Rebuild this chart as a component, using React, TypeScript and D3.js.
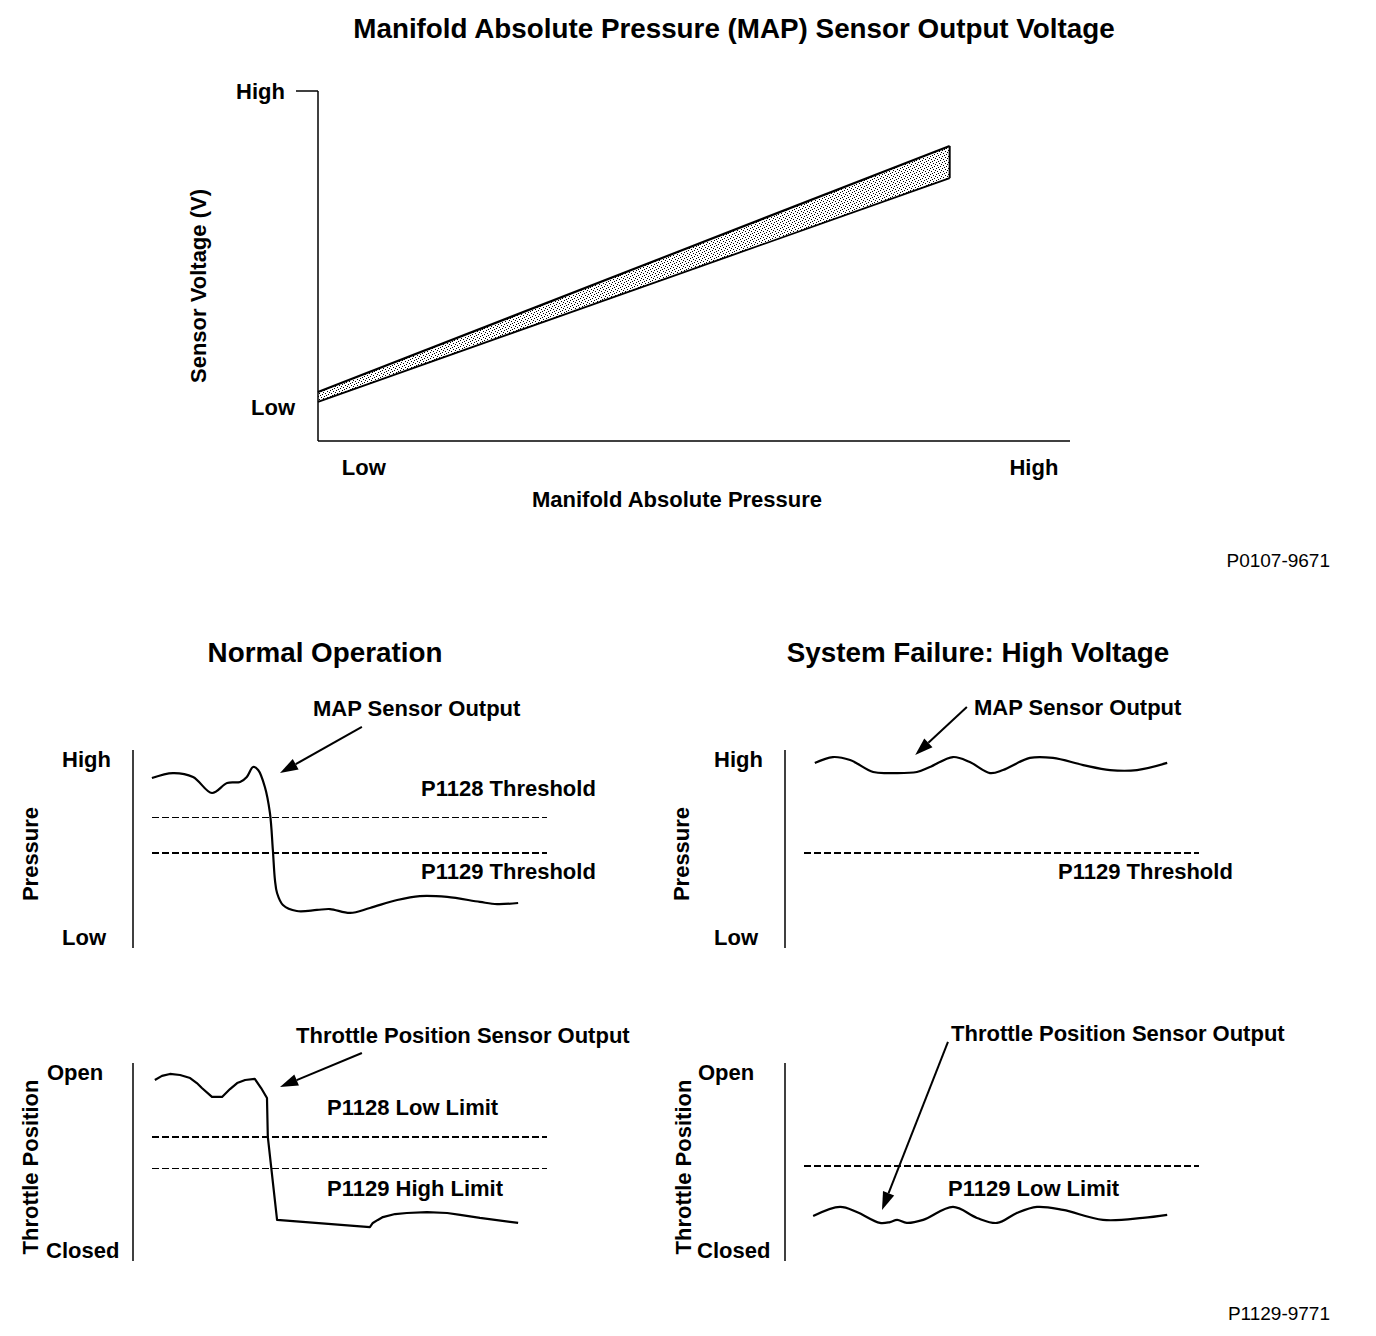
import React from "react";
import * as d3 from "d3";

// ---------- Top chart data ----------
const mapPressure = [0, 84];
const mapVoltageUpper = [14.0, 84.3];
const mapVoltageLower = [11.2, 75.1];
const topYTicks = [
  { label: "Low", value: 9.7 },
  { label: "High", value: 100 },
];
const topXTicks = [
  { label: "Low", value: 6.1 },
  { label: "High", value: 95.2 },
];

// ---------- Normal operation: MAP sensor output (time, pressure) ----------
const normalMapT = [4.5, 9.5, 14.3, 18.8, 22.4, 25.5, 27.1, 28.6, 29.8, 31.4, 32.6, 33.3, 33.8, 34.3, 35.7, 39.0, 43.8, 46.9, 51.7, 56.4, 62.9, 68.3, 74.8, 82.6, 86.7, 91.7];
const normalMapV = [89.3, 92.1, 89.9, 80.9, 86.5, 87.1, 89.9, 95.5, 93.8, 84.3, 69.7, 48.9, 32.0, 24.7, 18.0, 14.6, 15.2, 15.7, 13.5, 16.3, 20.8, 23.0, 22.5, 19.7, 18.5, 19.1];

// ---------- Normal operation: TPS output ----------
const normalTpsT = [5.2, 6.9, 8.8, 11.2, 13.6, 15.2, 16.4, 18.8, 21.2, 23.1, 24.8, 26.7, 29.0, 30.5, 31.9, 32.1, 34.3, 56.4, 57.1, 58.3, 59.5, 62.4, 65.2, 70.0, 74.8, 77.9, 82.6, 91.7];
const normalTpsV = [95.5, 97.8, 98.9, 98.3, 96.6, 93.8, 91.0, 86.0, 86.0, 90.4, 93.8, 95.5, 96.1, 91.0, 85.4, 63.5, 16.9, 12.9, 15.2, 16.9, 18.5, 20.2, 20.8, 21.3, 20.8, 19.7, 18.0, 15.2];

// ---------- Failure: MAP sensor output ----------
const failMapT = [7.1, 11.4, 15.5, 21.0, 25.0, 31.4, 34.5, 40.0, 44.0, 48.8, 51.9, 58.3, 63.8, 71.0, 77.4, 83.8, 91.0];
const failMapV = [97.8, 101.1, 99.4, 92.7, 92.1, 92.7, 95.5, 101.1, 98.3, 92.1, 93.8, 100.6, 100.6, 96.6, 93.8, 93.8, 97.8];

// ---------- Failure: TPS output ----------
const failTpsT = [6.7, 13.1, 17.1, 22.6, 25.0, 26.7, 29.0, 32.9, 40.0, 45.7, 50.5, 55.2, 60.0, 66.2, 75.7, 85.2, 91.0];
const failTpsV = [19.1, 24.2, 21.3, 15.2, 15.7, 16.9, 15.2, 16.9, 24.2, 18.0, 15.2, 20.8, 24.2, 22.5, 16.9, 18.0, 19.7];

// ---------- Thresholds ----------
const normalMapThresholds = [
  { label: "P1128 Threshold", value: 67.4, thick: false },
  { label: "P1129 Threshold", value: 47.2, thick: true },
];
const normalTpsThresholds = [
  { label: "P1128 Low Limit", value: 63.5, thick: true },
  { label: "P1129 High Limit", value: 46.1, thick: false },
];
const failMapThresholds = [{ label: "P1129 Threshold", value: 47.2, thick: true }];
const failTpsThresholds = [{ label: "P1129 Low Limit", value: 47.2, thick: true }];
const thresholdSpan = [4.6, 98.6];

// ---------- Arrows (from, to) in panel data units ----------
const normalMapArrow = [[54.5, 118], [35.0, 92.1]];
const normalTpsArrow = [[54.5, 110.7], [35.0, 91.6]];
const failMapArrow = [[43.3, 129.2], [31.0, 102.2]];
const failTpsArrow = [[38.8, 116.9], [23.1, 22.5]];

const FONT = "'Liberation Sans', Arial, Helvetica, sans-serif";

type PanelProps = {
  x0: number;
  yBase: number;
  t: number[];
  v: number[];
  thresholds: { label: string; value: number; thick: boolean }[];
  arrow: number[][];
  lowLabel: string;
  highLabel: string;
  axisTitle: string;
  labelXs: { hi: number; lo: number; title: number };
  smooth: boolean;
};

function Arrow({ x1, y1, x2, y2 }: { x1: number; y1: number; x2: number; y2: number }) {
  const ang = Math.atan2(y2 - y1, x2 - x1);
  const L = 18;
  const W = 6;
  const bx = x2 - L * Math.cos(ang);
  const by = y2 - L * Math.sin(ang);
  const px = -Math.sin(ang) * W;
  const py = Math.cos(ang) * W;
  return (
    <g>
      <line x1={x1} y1={y1} x2={bx} y2={by} stroke="#000" strokeWidth={2} />
      <path d={`M${x2},${y2}L${bx + px},${by + py}L${bx - px},${by - py}Z`} fill="#000" />
    </g>
  );
}

function Panel(p: PanelProps) {
  const x = d3.scaleLinear().domain([0, 100]).range([p.x0, p.x0 + 420]);
  const y = d3.scaleLinear().domain([0, 100]).range([p.yBase, p.yBase - 178]);
  const line = d3
    .line<number>()
    .x((_, i) => x(p.t[i]))
    .y((d) => y(d))
    .curve(p.smooth ? d3.curveCatmullRom.alpha(0.5) : d3.curveLinear);
  const [a0, a1] = p.arrow;
  return (
    <g>
      <line x1={p.x0} x2={p.x0} y1={y(100) - 9} y2={y(0) + 11} stroke="#000" strokeWidth={1.5} />
      <text x={p.labelXs.hi} y={y(100)} dy="0.36em" fontSize={22} fontWeight="bold">{p.highLabel}</text>
      <text x={p.labelXs.lo} y={y(0)} dy="0.36em" fontSize={22} fontWeight="bold">{p.lowLabel}</text>
      <text
        transform={`translate(${p.labelXs.title},${y(50) + 6}) rotate(-90)`}
        textAnchor="middle"
        dy="0.36em"
        fontSize={22}
        fontWeight="bold"
      >
        {p.axisTitle}
      </text>
      {p.thresholds.map((th) => (
        <line
          key={th.label}
          x1={x(thresholdSpan[0])}
          x2={x(thresholdSpan[1])}
          y1={Math.round(y(th.value)) + (th.thick ? 0 : 0.5)}
          y2={Math.round(y(th.value)) + (th.thick ? 0 : 0.5)}
          stroke="#000"
          strokeWidth={th.thick ? 2 : 1}
          strokeDasharray="7 3"
          shapeRendering="crispEdges"
        />
      ))}
      <path d={line(p.v) || ""} fill="none" stroke="#000" strokeWidth={2.2} strokeLinejoin="round" />
      <Arrow x1={x(a0[0])} y1={y(a0[1])} x2={x(a1[0])} y2={y(a1[1])} />
    </g>
  );
}

export default function App() {
  // Top chart scales
  const tx = d3.scaleLinear().domain([0, 100]).range([318, 1070]);
  const ty = d3.scaleLinear().domain([0, 100]).range([441, 91]);
  const band = d3
    .area<number>()
    .x((d) => tx(d))
    .y0((_, i) => ty(mapVoltageLower[i]))
    .y1((_, i) => ty(mapVoltageUpper[i]));
  const upper = d3.line<number>().x((d) => tx(d)).y((_, i) => ty(mapVoltageUpper[i]));
  const lower = d3.line<number>().x((d) => tx(d)).y((_, i) => ty(mapVoltageLower[i]));
  const xr = tx(mapPressure[1]);

  return (
    <svg
      width={1376}
      height={1336}
      style={{ position: "absolute", left: 0, top: 0, display: "block", background: "#fff" }}
      fontFamily={FONT}
    >
      <defs>
        <pattern id="stipple" width={6} height={6} patternUnits="userSpaceOnUse">
          <rect width={6} height={6} fill="#fff" />
          <rect x={0} y={0} width={1} height={1} fill="#000" />
          <rect x={3} y={1} width={1} height={1} fill="#000" />
          <rect x={5} y={2} width={1} height={1} fill="#000" />
          <rect x={1} y={3} width={1} height={1} fill="#000" />
          <rect x={4} y={4} width={1} height={1} fill="#000" />
          <rect x={2} y={5} width={1} height={1} fill="#000" />
        </pattern>
      </defs>
      <rect width={1376} height={1336} fill="#fff" />

      {/* ---------- Top chart ---------- */}
      <text x={734} y={28} dy="0.36em" textAnchor="middle" fontSize={27.8} fontWeight="bold">
        Manifold Absolute Pressure (MAP) Sensor Output Voltage
      </text>
      <path d={band(mapPressure) || ""} fill="url(#stipple)" stroke="none" />
      <path d={upper(mapPressure) || ""} fill="none" stroke="#000" strokeWidth={2.2} />
      <path d={lower(mapPressure) || ""} fill="none" stroke="#000" strokeWidth={1.8} />
      <line x1={xr} x2={xr} y1={ty(mapVoltageUpper[1])} y2={ty(mapVoltageLower[1])} stroke="#000" strokeWidth={2} />
      <line x1={tx(0)} x2={tx(0)} y1={ty(100)} y2={ty(0)} stroke="#000" strokeWidth={1.5} />
      <line x1={tx(100)} x2={tx(0)} y1={ty(0)} y2={ty(0)} stroke="#000" strokeWidth={1.5} />
      <line x1={tx(0) - 22} x2={tx(0)} y1={ty(100)} y2={ty(100)} stroke="#000" strokeWidth={1.5} />
      {topYTicks.map((t) => (
        <text key={t.label} x={t.label === "High" ? 285 : 295} y={ty(t.value)} dy="0.36em" textAnchor="end" fontSize={22} fontWeight="bold">
          {t.label}
        </text>
      ))}
      {topXTicks.map((t) => (
        <text key={t.label} x={tx(t.value)} y={467} dy="0.36em" textAnchor="middle" fontSize={22} fontWeight="bold">
          {t.label}
        </text>
      ))}
      <text x={677} y={499} dy="0.36em" textAnchor="middle" fontSize={22} fontWeight="bold">
        Manifold Absolute Pressure
      </text>
      <text transform="translate(198,286) rotate(-90)" dy="0.36em" textAnchor="middle" fontSize={22} fontWeight="bold">
        Sensor Voltage (V)
      </text>
      <text x={1330} y={560} dy="0.36em" textAnchor="end" fontSize={19}>
        P0107-9671
      </text>

      {/* ---------- Bottom section ---------- */}
      <text x={325} y={652} dy="0.36em" textAnchor="middle" fontSize={27.8} fontWeight="bold">
        Normal Operation
      </text>
      <text x={978} y={652} dy="0.36em" textAnchor="middle" fontSize={27.8} fontWeight="bold">
        System Failure: High Voltage
      </text>

      <Panel
        x0={133}
        yBase={937}
        t={normalMapT}
        v={normalMapV}
        thresholds={normalMapThresholds}
        arrow={normalMapArrow}
        lowLabel="Low"
        highLabel="High"
        axisTitle="Pressure"
        labelXs={{ hi: 62, lo: 62, title: 30 }}
        smooth={true}
      />
      <text x={313} y={708} dy="0.36em" fontSize={22} fontWeight="bold">MAP Sensor Output</text>
      <text x={421} y={788} dy="0.36em" fontSize={22} fontWeight="bold">P1128 Threshold</text>
      <text x={421} y={871} dy="0.36em" fontSize={22} fontWeight="bold">P1129 Threshold</text>

      <Panel
        x0={133}
        yBase={1250}
        t={normalTpsT}
        v={normalTpsV}
        thresholds={normalTpsThresholds}
        arrow={normalTpsArrow}
        lowLabel="Closed"
        highLabel="Open"
        axisTitle="Throttle Position"
        labelXs={{ hi: 47, lo: 46, title: 30 }}
        smooth={false}
      />
      <text x={296} y={1035} dy="0.36em" fontSize={22} fontWeight="bold">Throttle Position Sensor Output</text>
      <text x={327} y={1107} dy="0.36em" fontSize={22} fontWeight="bold">P1128 Low Limit</text>
      <text x={327} y={1188} dy="0.36em" fontSize={22} fontWeight="bold">P1129 High Limit</text>

      <Panel
        x0={785}
        yBase={937}
        t={failMapT}
        v={failMapV}
        thresholds={failMapThresholds}
        arrow={failMapArrow}
        lowLabel="Low"
        highLabel="High"
        axisTitle="Pressure"
        labelXs={{ hi: 714, lo: 714, title: 681 }}
        smooth={true}
      />
      <text x={974} y={707} dy="0.36em" fontSize={22} fontWeight="bold">MAP Sensor Output</text>
      <text x={1058} y={871} dy="0.36em" fontSize={22} fontWeight="bold">P1129 Threshold</text>

      <Panel
        x0={785}
        yBase={1250}
        t={failTpsT}
        v={failTpsV}
        thresholds={failTpsThresholds}
        arrow={failTpsArrow}
        lowLabel="Closed"
        highLabel="Open"
        axisTitle="Throttle Position"
        labelXs={{ hi: 698, lo: 697, title: 683 }}
        smooth={true}
      />
      <text x={951} y={1033} dy="0.36em" fontSize={22} fontWeight="bold">Throttle Position Sensor Output</text>
      <text x={948} y={1188} dy="0.36em" fontSize={22} fontWeight="bold">P1129 Low Limit</text>

      <text x={1330} y={1313} dy="0.36em" textAnchor="end" fontSize={19}>
        P1129-9771
      </text>
    </svg>
  );
}
